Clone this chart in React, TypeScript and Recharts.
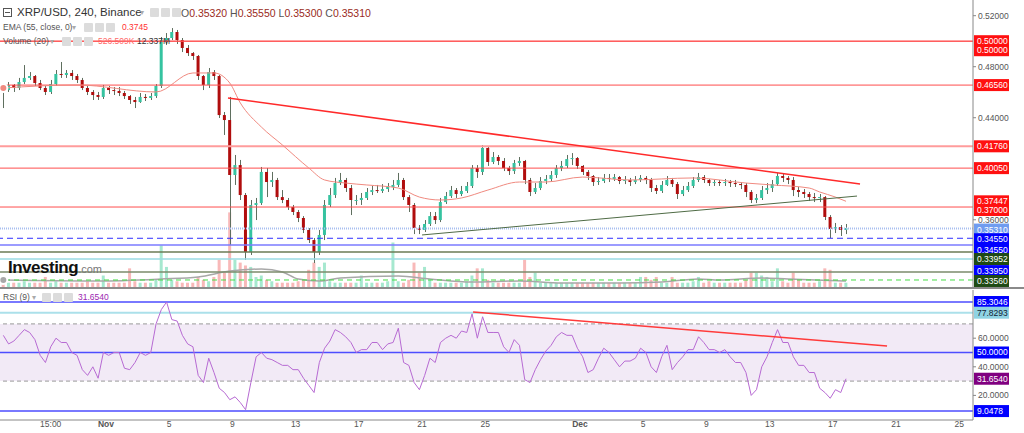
import React from "react"
import { ComposedChart, Bar, Line, XAxis, YAxis, ReferenceLine, ReferenceArea, Cell } from "recharts"

// 8h candles, index 0 sits at day -6.5 (day 0 = Nov 1)
const START_DAY = -6.5
const PER_DAY = 3
const FIRST_OPEN = 0.4657

const CLOSE = [
  0.4617, 0.4657, 0.4633, 0.468, 0.4712, 0.4727, 0.4672, 0.4633, 0.4602, 0.4664,
  0.4743, 0.4735, 0.4751, 0.4727, 0.4696, 0.4633, 0.4602, 0.4578, 0.4563, 0.4633,
  0.4617, 0.461, 0.4594, 0.457, 0.4539, 0.4523, 0.4563, 0.4555, 0.457, 0.4649,
  0.5009, 0.5025, 0.5072, 0.5009, 0.4947, 0.4907, 0.4884, 0.4727, 0.4657, 0.4758,
  0.4727, 0.4421, 0.4382, 0.3951, 0.4029, 0.3794, 0.3347, 0.3716, 0.3731, 0.3975,
  0.3896, 0.3912, 0.3778, 0.3755, 0.37, 0.3661, 0.3614, 0.352, 0.3441, 0.3347,
  0.3481, 0.3716, 0.3794, 0.3888, 0.3912, 0.3849, 0.3755, 0.3755, 0.3771, 0.3818,
  0.3833, 0.3826, 0.3841, 0.3857, 0.3873, 0.3912, 0.3778, 0.3716, 0.3535, 0.352,
  0.3567, 0.3629, 0.3598, 0.3739, 0.3786, 0.3833, 0.3802, 0.3826, 0.3865, 0.4006,
  0.3975, 0.4163, 0.4053, 0.4092, 0.4061, 0.4006, 0.3982, 0.4045, 0.4061, 0.3912,
  0.3818, 0.3849, 0.3904, 0.392, 0.3951, 0.4006, 0.4022, 0.4076, 0.4084, 0.4022,
  0.3975, 0.3943, 0.3896, 0.3904, 0.3928, 0.392, 0.3935, 0.3904, 0.3912, 0.3896,
  0.3912, 0.3928, 0.3912, 0.3849, 0.3826, 0.3873, 0.3912, 0.388, 0.3802, 0.3833,
  0.3865, 0.3912, 0.3935, 0.3912, 0.3888, 0.3896, 0.3888, 0.3896, 0.3888, 0.388,
  0.3873, 0.3818, 0.3755, 0.3771, 0.3833, 0.3849, 0.388, 0.3943, 0.3928, 0.3912,
  0.3833, 0.3818, 0.3802, 0.3778, 0.3771, 0.3778, 0.3622, 0.3528, 0.3543, 0.352, 0.3535,
]

const HIGH = [
  0.4672, 0.468, 0.4664, 0.4712, 0.4813, 0.4758, 0.4735, 0.4696, 0.4649, 0.4696,
  0.4774, 0.4837, 0.4774, 0.4774, 0.4743, 0.4712, 0.4649, 0.4617, 0.4602, 0.4657,
  0.4649, 0.4641, 0.4641, 0.461, 0.4578, 0.4563, 0.4594, 0.4586, 0.4594, 0.4664,
  0.5033, 0.5064, 0.5103, 0.5088, 0.5025, 0.497, 0.4915, 0.4892, 0.4735, 0.479,
  0.4774, 0.4735, 0.4445, 0.4563, 0.4108, 0.4069, 0.381, 0.3755, 0.3771, 0.4014,
  0.4006, 0.3975, 0.3928, 0.3833, 0.3771, 0.3716, 0.3677, 0.3629, 0.3535, 0.3457,
  0.352, 0.3755, 0.3849, 0.3928, 0.3967, 0.3928, 0.3873, 0.3794, 0.381, 0.3849,
  0.3865, 0.3873, 0.388, 0.3888, 0.3912, 0.3967, 0.3928, 0.3794, 0.3731, 0.3559,
  0.3598, 0.3661, 0.3661, 0.3771, 0.3818, 0.3865, 0.3849, 0.3865, 0.3896, 0.4029,
  0.4029, 0.4186, 0.4178, 0.4131, 0.4108, 0.4084, 0.4022, 0.4069, 0.4092, 0.4069,
  0.3928, 0.3888, 0.3935, 0.3951, 0.3982, 0.4029, 0.4061, 0.4108, 0.4123, 0.4092,
  0.4029, 0.399, 0.3951, 0.3935, 0.3959, 0.3959, 0.3959, 0.3943, 0.3943, 0.3928,
  0.3943, 0.3951, 0.3943, 0.3928, 0.3873, 0.3904, 0.3943, 0.3928, 0.3896, 0.3865,
  0.3896, 0.3935, 0.3967, 0.3951, 0.392, 0.3912, 0.3912, 0.392, 0.3912, 0.3912,
  0.3896, 0.3888, 0.3833, 0.3802, 0.3865, 0.3888, 0.3912, 0.3967, 0.3959, 0.3943,
  0.3935, 0.3857, 0.3841, 0.3818, 0.381, 0.3802, 0.3786, 0.3637, 0.3575, 0.3559, 0.3567,
]

const LOW = [
  0.4476, 0.4602, 0.4602, 0.4617, 0.4664, 0.4696, 0.4649, 0.4617, 0.4578, 0.4586,
  0.4649, 0.4712, 0.4712, 0.4696, 0.4672, 0.4617, 0.4578, 0.4539, 0.4539, 0.4547,
  0.4586, 0.4578, 0.457, 0.4547, 0.4508, 0.4476, 0.4516, 0.4531, 0.4539, 0.4555,
  0.4633, 0.497, 0.5009, 0.4978, 0.4915, 0.4884, 0.4853, 0.4696, 0.4617, 0.4633,
  0.4696, 0.4398, 0.4265, 0.3402, 0.3873, 0.3755, 0.3285, 0.3324, 0.3598, 0.3716,
  0.3778, 0.3857, 0.3755, 0.3731, 0.3677, 0.3637, 0.3582, 0.3496, 0.3418, 0.3261,
  0.3324, 0.3441, 0.37, 0.3771, 0.3873, 0.3818, 0.3637, 0.3716, 0.3716, 0.3755,
  0.3794, 0.381, 0.381, 0.3818, 0.3833, 0.3857, 0.3755, 0.3661, 0.3488, 0.3488,
  0.3504, 0.3551, 0.3567, 0.3582, 0.3724, 0.3771, 0.3771, 0.3786, 0.381, 0.3849,
  0.3928, 0.3951, 0.4022, 0.4037, 0.4029, 0.3982, 0.3951, 0.3959, 0.4022, 0.388,
  0.3786, 0.3802, 0.3833, 0.388, 0.3904, 0.3928, 0.3982, 0.4006, 0.4029, 0.3998,
  0.3951, 0.3912, 0.3865, 0.3873, 0.3888, 0.3896, 0.3904, 0.388, 0.388, 0.3865,
  0.388, 0.3896, 0.388, 0.3818, 0.3802, 0.381, 0.3865, 0.3857, 0.3763, 0.3786,
  0.3818, 0.3849, 0.3896, 0.3888, 0.3865, 0.3865, 0.3865, 0.3865, 0.3857, 0.3857,
  0.3841, 0.3778, 0.3731, 0.3731, 0.3755, 0.3802, 0.3818, 0.3865, 0.3896, 0.388,
  0.3786, 0.3778, 0.3771, 0.3747, 0.3739, 0.3739, 0.3598, 0.3457, 0.3496, 0.3473, 0.3488,
]

// volume in millions
const VOLUME = [
  6, 3, 3, 3, 4, 3, 3, 3, 7, 3,
  4, 3, 3, 3, 3, 3, 4, 3, 3, 8,
  3, 3, 3, 3, 13, 4, 3, 3, 3, 5,
  29, 14, 5, 4, 3, 3, 3, 7, 5, 4,
  7, 19, 10, 52, 19, 17, 15, 14, 7, 8,
  5, 4, 3, 3, 3, 3, 4, 5, 12, 17,
  14, 17, 4, 3, 3, 3, 3, 3, 8, 3,
  3, 3, 3, 4, 31, 4, 3, 5, 17, 10,
  14, 5, 3, 3, 3, 3, 3, 3, 4, 8,
  13, 13, 5, 3, 3, 3, 3, 3, 3, 19,
  7, 10, 3, 3, 3, 3, 3, 3, 3, 3,
  3, 3, 3, 3, 3, 3, 3, 3, 3, 3,
  3, 7, 7, 5, 7, 3, 3, 7, 3, 3,
  3, 4, 7, 3, 4, 3, 3, 3, 3, 3,
  3, 5, 10, 10, 8, 7, 4, 13, 4, 3,
  10, 5, 3, 3, 3, 4, 13, 12, 3, 3, 3,
]

const RSI = [
  62, 56, 58, 62, 66, 64, 59, 48, 43, 54,
  60, 57, 57, 50, 48, 38, 34, 40, 32, 50,
  48, 50, 50, 39, 38, 43, 50, 48, 50, 70,
  80, 85.3, 73, 72, 62, 56, 54, 34, 29, 46,
  36, 25, 22, 17, 19, 15, 10, 29, 47, 50,
  46, 45, 43, 41, 41, 38, 38, 32, 27, 22,
  43, 53, 58, 66, 64, 61, 57, 50, 52, 52,
  57, 57, 52, 56, 57, 67, 43, 41, 29, 24,
  34, 46, 43, 57, 60, 62, 60, 65, 64, 77,
  60, 75, 64, 64, 64, 54, 50, 59, 55, 31,
  29, 38, 45, 51, 55, 61, 64, 62, 62, 53,
  47, 36, 38, 46, 53, 50, 45, 40, 44, 44,
  46, 53, 50, 40, 36, 47, 55, 38, 43, 47,
  52, 52, 61, 57, 52, 52, 50, 52, 47, 43,
  43, 36, 20, 24, 40, 47, 57, 66, 57, 57,
  47, 41, 41, 36, 36, 25, 22, 18, 24, 22, 31.65,
]

// [candle index, value]
const EMA: [number, number][] = [
  [0, 0.4633], [14, 0.4657], [29, 0.4602], [36, 0.4751], [40, 0.4751], [43, 0.4672],
  [45, 0.4516], [49, 0.4327], [53, 0.4186], [58, 0.4006], [61, 0.3912], [65, 0.3888],
  [69, 0.3873], [75, 0.3849], [79, 0.3778], [83, 0.3755], [87, 0.3771], [92, 0.3833],
  [98, 0.3896], [103, 0.3896], [110, 0.3935], [119, 0.3912], [131, 0.3928], [141, 0.3888],
  [146, 0.3873], [153, 0.3849], [155, 0.3818], [158, 0.3778], [160, 0.3745],
]

const VOL_SMA: [number, number][] = [
  [0, 4.9], [18, 4.2], [30, 5.6], [37, 7.0], [43, 11.1], [49, 12.5], [53, 10.5], [56, 5.6],
  [60, 4.2], [64, 6.3], [75, 7.7], [81, 5.6], [89, 3.5], [98, 4.2], [106, 2.8], [117, 2.8],
  [125, 3.5], [132, 5.6], [136, 4.9], [144, 6.3], [149, 5.6], [160, 4.2],
]

// trend lines: [day, value]
const PRICE_TREND_DOWN: [number, number][] = [[7.72, 0.4555], [47.72, 0.388]]
const PRICE_TREND_UP: [number, number][] = [[20.0, 0.3481], [47.53, 0.3786]]
const RSI_TREND: [number, number][] = [[23.23, 78.3], [49.43, 54.5]]

const X_TICKS = [-3.5, 0, 4, 8, 12, 16, 20, 24, 30, 34, 38, 42, 46, 50, 54]
const X_LABELS = ["15:00", "Nov", "5", "9", "13", "17", "21", "25", "Dec", "5", "9", "13", "17", "21", "25"]
const X_DOMAIN = [-6.71, 54.87]

const PRICE_TICKS = [0.36, 0.44, 0.48, 0.52]
const PRICE_DOMAIN = [0.3073, 0.5323]
const RSI_TICKS = [20, 40, 60]
const RSI_DOMAIN = [2.8, 93.7]

const LEVELS = [0.5, 0.5, 0.4656, 0.4176, 0.4005, 0.37447, 0.37, 0.3531, 0.3455, 0.3402, 0.3347, 0.3292, 0.319, 0.3128]
const LEVEL_TEXT = ["0.50000", "0.50000", "0.46560", "0.41760", "0.40050", "0.37447", "0.37000", "0.35310", "0.34550", "0.34550", "0.33952", "", "0.33950", "0.33560"]
const LEVEL_STYLE = [
  { stroke: "#ff4d4d", w: 1, dash: "", bg: "#ff1010", fg: "#fff", shift: 0 },
  { stroke: "#ff4d4d", w: 1, dash: "", bg: "#ff1010", fg: "#fff", shift: 9 },
  { stroke: "#ff4d4d", w: 1, dash: "", bg: "#ff1010", fg: "#fff", shift: 0 },
  { stroke: "#ff9c9c", w: 2, dash: "", bg: "#ff1010", fg: "#fff", shift: 0 },
  { stroke: "#ff4d4d", w: 1, dash: "", bg: "#ff1010", fg: "#fff", shift: 0 },
  { stroke: "none", w: 0, dash: "", bg: "#ff1010", fg: "#fff", shift: 0 },
  { stroke: "#ff4d4d", w: 1, dash: "", bg: "#ff1010", fg: "#fff", shift: 3 },
  { stroke: "#a9bff0", w: 2, dash: "1 1", bg: "#6f9cf0", fg: "#fff", shift: 1 },
  { stroke: "#3030ff", w: 1, dash: "6 4", bg: "#0000ff", fg: "#fff", shift: 1 },
  { stroke: "#7b7bff", w: 1.5, dash: "", bg: "#0000ff", fg: "#fff", shift: 5 },
  { stroke: "#6b7b55", w: 1.5, dash: "", bg: "#1e4a14", fg: "#fff", shift: 7 },
  { stroke: "#9adbe3", w: 1.5, dash: "", bg: "", fg: "", shift: 0 },
  { stroke: "#7b8b6b", w: 1.5, dash: "", bg: "#0000ff", fg: "#fff", shift: -1 },
  { stroke: "#44dd44", w: 1, dash: "5 4", bg: "#1e4a14", fg: "#fff", shift: 1 },
]

const RSI_LEVELS = [85.3046, 77.8293, 70, 50, 31.654, 30, 9.0478]
const RSI_TEXT = ["85.3046", "77.8293", "", "50.0000", "31.6540", "", "9.0478"]
const RSI_STYLE = [
  { stroke: "#4d4dff", w: 1.5, dash: "", bg: "#0000ff", fg: "#fff" },
  { stroke: "#abe0ea", w: 2, dash: "", bg: "#8fd3e3", fg: "#123" },
  { stroke: "#999", w: 1, dash: "4 3", bg: "", fg: "" },
  { stroke: "#4d4dff", w: 1.5, dash: "", bg: "#0000ff", fg: "#fff" },
  { stroke: "none", w: 0, dash: "", bg: "#800080", fg: "#fff" },
  { stroke: "#999", w: 1, dash: "4 3", bg: "", fg: "" },
  { stroke: "#4d4dff", w: 1.5, dash: "", bg: "#0000ff", fg: "#fff" },
]

const UP = "#35c3a0"
const DOWN = "#b00d0d"
const WICK = "#5f6f5f"
const VOL_UP = "#a6e8cf"
const VOL_DOWN = "#f8b9b9"
const FONT = "'Liberation Sans', Arial, sans-serif"

const candles: any[] = CLOSE.map((c, i) => {
  const open = i === 0 ? FIRST_OPEN : CLOSE[i - 1]
  return {
    t: START_DAY + i / PER_DAY,
    open,
    close: c,
    high: HIGH[i],
    low: LOW[i],
    range: [LOW[i], HIGH[i]],
    vol: VOLUME[i],
    rsi: RSI[i],
  }
})
EMA.forEach(([i, v]) => (candles[i].ema = v))
VOL_SMA.forEach(([i, v]) => (candles[i].volSma = v))

const Candle = (props: any) => {
  const { x, y, width, height, payload } = props
  if (!payload) return null
  const top0 = height < 0 ? y + height : y
  const h = Math.abs(height)
  const span = payload.high - payload.low || 1e-9
  const toY = (v: number) => top0 + ((payload.high - v) / span) * h
  const up = payload.close >= payload.open
  const bTop = toY(Math.max(payload.open, payload.close))
  const bBot = toY(Math.min(payload.open, payload.close))
  const cx = Math.round(x + width / 2) + 0.5
  return (
    <g>
      <line x1={cx} x2={cx} y1={top0} y2={top0 + h} stroke={WICK} strokeWidth={1} />
      <rect x={x} y={bTop} width={width} height={Math.max(1, bBot - bTop)} fill={up ? UP : DOWN} />
    </g>
  )
}

const Badge = (props: any) => {
  const { viewBox, text, bg, fg, shift } = props
  if (!viewBox || !text) return null
  const x = viewBox.x + viewBox.width + 1
  const y = viewBox.y + (shift || 0)
  return (
    <g>
      <rect x={x} y={y - 6} width={35} height={12} fill={bg} />
      <text x={x + 3} y={y + 3} fontSize={8.5} fill={fg} fontFamily={FONT}>
        {text}
      </text>
    </g>
  )
}

const XTick = (props: any) => {
  const { x, y, payload } = props
  const i = X_TICKS.indexOf(payload.value)
  const label = X_LABELS[i] ?? ""
  const bold = label === "Nov" || label === "Dec"
  return (
    <text x={x} y={y - 1} textAnchor="middle" fontSize={8.5} fill="#555" fontWeight={bold ? "bold" : "normal"} fontFamily={FONT}>
      {label}
    </text>
  )
}

const Icons = ({ left, top }: { left: number; top: number }) => (
  <>
    {[0, 1, 2].map((k) => (
      <span
        key={k}
        style={{ position: "absolute", left: left + k * 11, top, width: 9, height: 9, background: "#dcdcdc", borderRadius: 1 }}
      />
    ))}
  </>
)

export default function App() {
  const txt = (left: number, top: number, size: number, color: string, s: string, extra: any = {}) => (
    <span style={{ position: "absolute", left, top, fontSize: size, color, whiteSpace: "nowrap", lineHeight: 1, ...extra }}>{s}</span>
  )
  return (
    <div style={{ position: "relative", width: 1024, height: 433, background: "#fff", fontFamily: FONT, overflow: "hidden" }}>
      <style>{`body{margin:0}`}</style>

      <div style={{ position: "absolute", left: 0, top: 0 }}>
        <ComposedChart width={1024} height={288} data={candles} margin={{ top: 0, right: 0, left: 0, bottom: 1 }}>
          <XAxis xAxisId={0} type="number" dataKey="t" domain={X_DOMAIN} allowDataOverflow hide />
          <XAxis xAxisId="v" type="number" dataKey="t" domain={X_DOMAIN} allowDataOverflow hide />
          <YAxis yAxisId="v" domain={[0, 200]} hide />
          <YAxis
            yAxisId={0}
            orientation="right"
            width={51}
            domain={PRICE_DOMAIN}
            ticks={PRICE_TICKS}
            allowDataOverflow
            tickFormatter={(v: number) => v.toFixed(5)}
            tick={{ fontSize: 8.5, fill: "#555" }}
            axisLine={{ stroke: "#888" }}
            tickLine={{ stroke: "#888" }}
            tickSize={3}
          />
          <Bar xAxisId="v" yAxisId="v" dataKey="vol" barSize={3} isAnimationActive={false}>
            {candles.map((d, i) => (
              <Cell key={i} fill={d.close >= d.open ? VOL_UP : VOL_DOWN} />
            ))}
          </Bar>
          <Line xAxisId="v" yAxisId="v" dataKey="volSma" stroke="#a8a8a8" strokeWidth={1.5} dot={false} connectNulls type="monotone" isAnimationActive={false} />
          {LEVELS.map((v, i) => (
            <ReferenceLine
              key={i}
              y={v}
              stroke={LEVEL_STYLE[i].stroke}
              strokeWidth={LEVEL_STYLE[i].w}
              strokeDasharray={LEVEL_STYLE[i].dash || undefined}
              label={<Badge text={LEVEL_TEXT[i]} bg={LEVEL_STYLE[i].bg} fg={LEVEL_STYLE[i].fg} shift={LEVEL_STYLE[i].shift} />}
            />
          ))}
          <Line dataKey="ema" stroke="#f08a80" strokeWidth={1} dot={false} connectNulls type="monotone" isAnimationActive={false} />
          <Bar dataKey="range" barSize={3} shape={(p: any) => <Candle {...p} />} isAnimationActive={false} />
          <ReferenceLine
            segment={PRICE_TREND_DOWN.map(([x, y]) => ({ x, y }))}
            stroke="#ff2a2a"
            strokeWidth={1.5}
          />
          <ReferenceLine
            segment={PRICE_TREND_UP.map(([x, y]) => ({ x, y }))}
            stroke="#4f6b45"
            strokeWidth={1}
          />
        </ComposedChart>
      </div>

      <div style={{ position: "absolute", left: 0, top: 287, width: 1024, height: 2, background: "#8a8a8a" }} />

      <div style={{ position: "absolute", left: 0, top: 288 }}>
        <ComposedChart width={1024} height={145} data={candles} margin={{ top: 2, right: 0, left: 0, bottom: 0 }}>
          <XAxis
            type="number"
            dataKey="t"
            domain={X_DOMAIN}
            allowDataOverflow
            ticks={X_TICKS}
            height={13}
            tick={<XTick />}
            tickLine={false}
            axisLine={{ stroke: "#888" }}
          />
          <YAxis
            orientation="right"
            width={51}
            domain={RSI_DOMAIN}
            ticks={RSI_TICKS}
            allowDataOverflow
            tickFormatter={(v: number) => v.toFixed(4)}
            tick={{ fontSize: 8.5, fill: "#555" }}
            axisLine={{ stroke: "#888" }}
            tickLine={{ stroke: "#888" }}
            tickSize={3}
          />
          <ReferenceArea y1={30} y2={70} fill="#9b59b6" fillOpacity={0.13} stroke="none" />
          {RSI_LEVELS.map((v, i) => (
            <ReferenceLine
              key={i}
              y={v}
              stroke={RSI_STYLE[i].stroke}
              strokeWidth={RSI_STYLE[i].w}
              strokeDasharray={RSI_STYLE[i].dash || undefined}
              label={<Badge text={RSI_TEXT[i]} bg={RSI_STYLE[i].bg} fg={RSI_STYLE[i].fg} shift={0} />}
            />
          ))}
          <Line dataKey="rsi" stroke="#b76ad3" strokeWidth={1} dot={false} isAnimationActive={false} />
          <ReferenceLine segment={RSI_TREND.map(([x, y]) => ({ x, y }))} stroke="#ff3a3a" strokeWidth={1.5} />
        </ComposedChart>
      </div>

      {/* legend rows */}
      <span style={{ position: "absolute", left: 3, top: 8, width: 7, height: 7, border: "1px solid #555" }}>
        <span style={{ position: "absolute", left: 1, top: 3, width: 5, height: 1, background: "#555" }} />
      </span>
      {txt(17, 7, 11.5, "#333", "XRP/USD, 240, Binance")}
      {txt(140, 9, 8, "#aaa", "▾")}
      <Icons left={150} top={8} />
      <span style={{ position: "absolute", left: 181, top: 8, fontSize: 10.5, whiteSpace: "nowrap", lineHeight: 1 }}>
        <span style={{ color: "#555" }}>O</span><span style={{ color: "#9a2a22" }}>0.35320</span>{" "}
        <span style={{ color: "#555" }}>H</span><span style={{ color: "#9a2a22" }}>0.35550</span>{" "}
        <span style={{ color: "#555" }}>L</span><span style={{ color: "#9a2a22" }}>0.35300</span>{" "}
        <span style={{ color: "#555" }}>C</span><span style={{ color: "#9a2a22" }}>0.35310</span>
      </span>

      {txt(3, 23, 8.5, "#555", "EMA (55, close, 0)")}
      {txt(72, 24, 8, "#aaa", "▾")}
      <Icons left={84} top={23} />
      {txt(122, 23, 8.5, "#ff3333", "0.3745")}

      {txt(3, 37, 8.5, "#555", "Volume (20)")}
      {txt(50, 38, 8, "#aaa", "▾")}
      <Icons left={62} top={37} />
      {txt(98, 37, 8.5, "#ff6a6a", "526.509K")}
      {txt(137, 37, 8.5, "#333", "12.337M")}

      {txt(3, 293, 8.5, "#555", "RSI (9)")}
      {txt(32, 294, 8, "#aaa", "▾")}
      <Icons left={42} top={293} />
      {txt(78, 293, 8.5, "#9c27b0", "31.6540")}

      <span style={{ position: "absolute", left: 8, top: 259, whiteSpace: "nowrap", lineHeight: 1 }}>
        <span style={{ fontSize: 17, fontWeight: "bold", color: "#111", letterSpacing: -0.5 }}>Investing</span>
        <span style={{ fontSize: 11, color: "#777" }}>.com</span>
      </span>
    </div>
  )
}
